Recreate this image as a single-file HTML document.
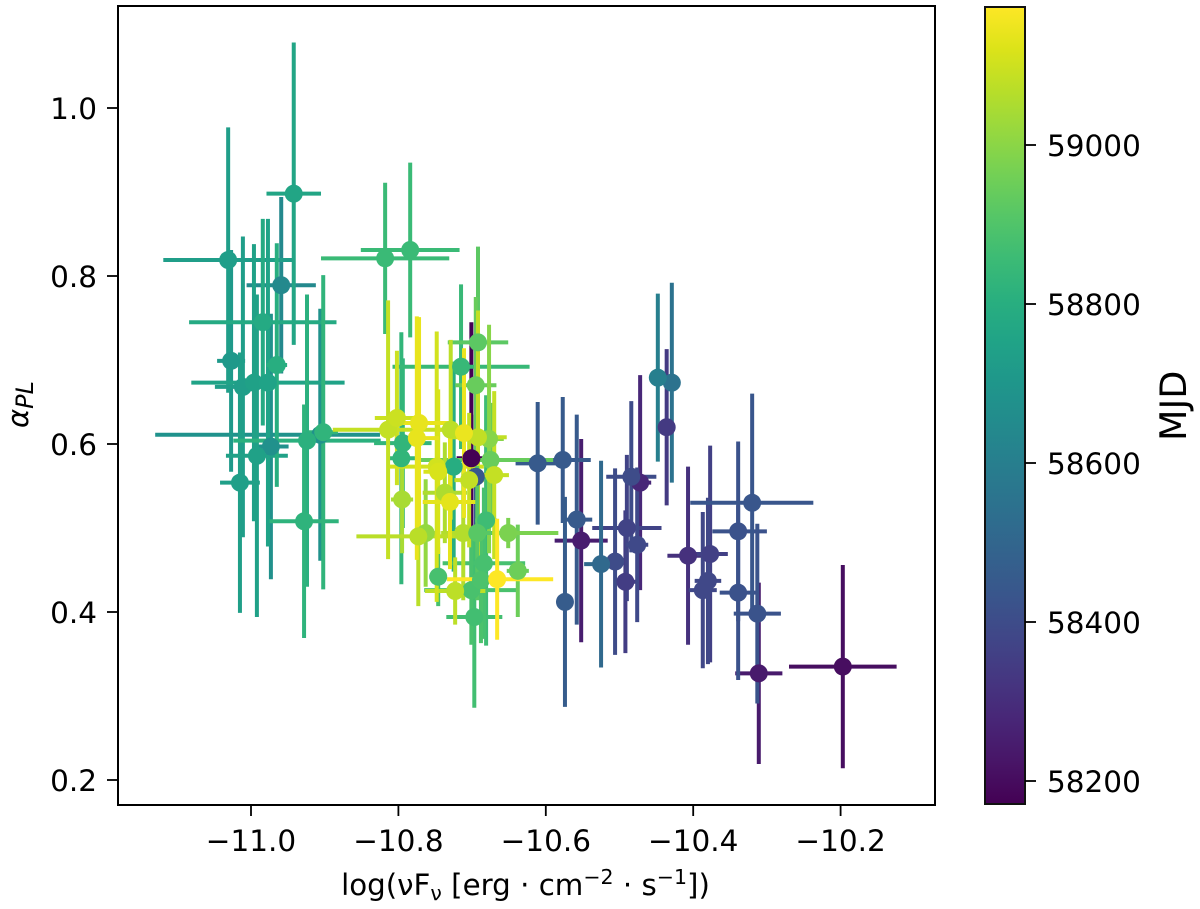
<!DOCTYPE html>
<html lang="en">
<head>
<meta charset="utf-8">
<title>Spectral index vs flux</title>
<style>
html,body{margin:0;padding:0;background:#fff;width:1200px;height:909px;overflow:hidden}
svg{display:block;font-family:"DejaVu Sans","Liberation Sans",sans-serif}
</style>
</head>
<body>
<svg id="chart" width="1200" height="909" viewBox="0 0 1200 909" xmlns="http://www.w3.org/2000/svg">
  <defs>
    <linearGradient id="viridis-gradient" x1="0" y1="1" x2="0" y2="0"></linearGradient>
  </defs>
  <rect x="0" y="0" width="1200" height="909" fill="#fff"/>
  <g id="errorbars"></g>
  <g id="markers"></g>
  <rect x="118" y="6" width="817" height="799" fill="none" stroke="#000" stroke-width="2"/>
  <g id="x-axis"></g>
  <g id="y-axis"></g>
  <text x="525.5" y="895" font-size="29.3" text-anchor="middle" fill="#000">log(νF<tspan dy="5" font-size="20.5">ν</tspan><tspan dy="-5"> [erg · cm</tspan><tspan dy="-11" font-size="20.5">−2</tspan><tspan dy="11"> · s</tspan><tspan dy="-11" font-size="20.5">−1</tspan><tspan dy="11">])</tspan></text>
  <text transform="translate(28,428) rotate(-90)" font-size="29" fill="#000"><tspan font-style="italic">α</tspan><tspan dy="5" font-size="24" font-style="italic">PL</tspan></text>
  <rect x="985" y="7" width="40" height="797" fill="url(#viridis-gradient)"/>
  <rect x="985" y="7" width="40" height="797" fill="none" stroke="#111" stroke-width="2"/>
  <g id="colorbar-axis"></g>
  <text transform="translate(1186,441) rotate(-90)" font-size="36.5" fill="#000">MJD</text>
</svg>
<script>
const logFlux = [
  -10.701,-10.197,-10.311,-10.552,-10.472,-10.407,-10.436,-10.492,-10.377,-10.490,
  -10.387,-10.380,-10.476,-10.484,-10.506,-10.339,-10.339,-10.313,-10.320,-10.695,
  -10.558,-10.577,-10.611,-10.574,-10.525,-10.429,-10.448,-10.959,-10.973,-10.906,
  -11.027,-11.011,-11.031,-11.015,-10.992,-10.996,-10.977,-10.942,-10.984,-10.725,
  -10.965,-10.924,-10.928,-10.902,-10.796,-10.794,-10.715,-10.818,-10.784,-10.681,
  -10.697,-10.746,-10.684,-10.701,-10.688,-10.692,-10.695,-10.675,-10.638,-10.651,
  -10.677,-10.763,-10.795,-10.737,-10.712,-10.729,-10.723,-10.704,-10.773,-10.692,
  -10.670,-10.814,-10.802,-10.748,-10.746,-10.730,-10.772,-10.775,-10.711,-10.666,
  -10.693
];
const alphaPL = [
  0.583,0.335,0.327,0.485,0.554,0.467,0.620,0.436,0.469,0.500,
  0.426,0.437,0.480,0.561,0.460,0.496,0.423,0.398,0.530,0.561,
  0.510,0.581,0.577,0.412,0.457,0.673,0.679,0.789,0.597,0.611,
  0.699,0.668,0.819,0.554,0.586,0.673,0.673,0.898,0.745,0.573,
  0.694,0.604,0.508,0.614,0.583,0.601,0.692,0.821,0.831,0.509,
  0.394,0.442,0.458,0.426,0.438,0.721,0.670,0.581,0.449,0.494,
  0.606,0.494,0.534,0.542,0.494,0.617,0.425,0.557,0.490,0.608,
  0.563,0.617,0.631,0.573,0.567,0.531,0.625,0.607,0.613,0.439,
  0.494
];
const fluxErrLow = [
  0.020,0.073,0.032,0.036,0.015,0.028,0.012,0.015,0.024,0.047,
  0.019,0.018,0.015,0.034,0.012,0.035,0.025,0.032,0.084,0.010,
  0.021,0.038,0.030,0.010,0.023,0.010,0.010,0.047,0.024,0.224,
  0.019,0.038,0.088,0.027,0.042,0.020,0.104,0.037,0.100,0.015,
  0.014,0.100,0.047,0.020,0.020,0.039,0.093,0.087,0.067,0.015,
  0.038,0.012,0.056,0.064,0.015,0.041,0.028,0.095,0.015,0.031,
  0.020,0.020,0.015,0.030,0.030,0.015,0.041,0.020,0.084,0.039,
  0.020,0.075,0.030,0.064,0.020,0.037,0.040,0.030,0.020,0.068,
  0.020
];
const fluxErrHigh = [
  0.020,0.073,0.032,0.036,0.015,0.028,0.012,0.015,0.024,0.047,
  0.019,0.018,0.015,0.034,0.012,0.039,0.025,0.032,0.083,0.010,
  0.021,0.038,0.030,0.010,0.023,0.010,0.010,0.047,0.024,0.081,
  0.019,0.038,0.088,0.027,0.042,0.020,0.104,0.037,0.100,0.015,
  0.014,0.100,0.047,0.020,0.020,0.039,0.093,0.087,0.067,0.015,
  0.038,0.012,0.056,0.064,0.015,0.041,0.028,0.085,0.015,0.068,
  0.020,0.020,0.015,0.030,0.030,0.015,0.041,0.020,0.084,0.039,
  0.020,0.075,0.030,0.064,0.020,0.037,0.040,0.030,0.020,0.076,
  0.020
];
const alphaErr = [
  0.162,0.121,0.108,0.121,0.128,0.106,0.093,0.085,0.129,0.087,
  0.093,0.099,0.092,0.090,0.111,0.107,0.104,0.107,0.130,0.074,
  0.125,0.075,0.073,0.125,0.123,0.119,0.100,0.105,0.158,0.150,
  0.132,0.179,0.158,0.155,0.192,0.165,0.195,0.180,0.123,0.125,
  0.145,0.174,0.139,0.187,0.150,0.101,0.098,0.090,0.104,0.149,
  0.108,0.035,0.090,0.065,0.075,0.114,0.105,0.068,0.055,0.018,
  0.136,0.064,0.064,0.060,0.080,0.107,0.040,0.080,0.083,0.151,
  0.100,0.154,0.080,0.161,0.098,0.080,0.126,0.145,0.101,0.072,
  0.080
];
const mjd = [
  58171,58205,58240,58250,58280,58310,58340,58350,58360,58370,
  58385,58385,58390,58400,58400,58420,58420,58425,58435,58440,
  58450,58450,58450,58460,58510,58550,58600,58640,58675,58680,
  58710,58730,58730,58735,58745,58745,58750,58762,58780,58793,
  58800,58810,58820,58825,58830,58830,58845,58850,58850,58860,
  58870,58880,58880,58885,58890,58922,58942,58942,58950,58975,
  58993,59012,59043,59053,59060,59073,59073,59083,59070,59080,
  59085,59085,59095,59105,59115,59133,59140,59140,59145,59173,
  58915
];
const xTickValues = [-11.0,-10.8,-10.6,-10.4,-10.2];
const yTickValues = [0.2,0.4,0.6,0.8,1.0];
const mjdTickValues = [58200,58400,58600,58800,59000];
const viridisStops = ["#440154","#481567","#482677","#453781","#404788","#39568c","#33638d","#2d708e","#287d8e","#238a8d","#1f968b","#20a387","#29af7f","#3cbb75","#55c667","#73d055","#95d840","#b8de29","#dce319","#fde725"];

const NS = "http://www.w3.org/2000/svg";
const mjdMin = 58171, mjdMax = 59173;
const FONT = 29.5;

function xScale(v){ return 251 + (v + 11) * 737; }
function yScale(a){ return 780 - (a - 0.2) * 840; }
function mjdScale(m){ return 781 - (m - 58200) * 0.795; }

function hexToRgb(h){ return [1,3,5].map(i => parseInt(h.substr(i,2),16)); }
function viridis(t){
  t = Math.max(0, Math.min(1, t));
  const p = t * (viridisStops.length - 1);
  const i = Math.min(Math.floor(p), viridisStops.length - 2);
  const a = hexToRgb(viridisStops[i]), b = hexToRgb(viridisStops[i + 1]);
  const f = p - i;
  return "rgb(" + a.map((c, k) => Math.round(c + (b[k] - c) * f)).join(",") + ")";
}
function colorFor(m){ return viridis((m - mjdMin) / (mjdMax - mjdMin)); }

function svgEl(tag, attrs, parent){
  const el = document.createElementNS(NS, tag);
  for (const k in attrs) el.setAttribute(k, attrs[k]);
  parent.appendChild(el);
  return el;
}
function fmtMinus(s){ return s.replace("-", "\u2212"); }

const gradient = document.getElementById("viridis-gradient");
viridisStops.forEach((c, i) => {
  const stop = svgEl("stop", {offset: i / (viridisStops.length - 1), "stop-color": c}, gradient);
  
  
});

const errG = document.getElementById("errorbars");
const markG = document.getElementById("markers");
logFlux.forEach((x, i) => {
  const col = colorFor(mjd[i]);
  const cx = xScale(x), cy = yScale(alphaPL[i]);
  const v = svgEl("line", {x1: cx, x2: cx, y1: yScale(alphaPL[i] + alphaErr[i]), y2: yScale(alphaPL[i] - alphaErr[i]), stroke: col, "stroke-width": 4}, errG);
  
  
  const h = svgEl("line", {x1: xScale(x - fluxErrLow[i]), x2: xScale(x + fluxErrHigh[i]), y1: cy, y2: cy, stroke: col, "stroke-width": 4}, errG);
  
  
  const c = svgEl("circle", {cx: cx, cy: cy, r: 9, fill: col}, markG);
  
  
});

const xAxis = document.getElementById("x-axis");
xTickValues.forEach(v => {
  const px = xScale(v);
  const t = svgEl("line", {x1: px, x2: px, y1: 805, y2: 816, stroke: "#000", "stroke-width": 1.8}, xAxis);
  
  
  const l = svgEl("text", {x: px, y: 851, "font-size": FONT, "text-anchor": "middle", fill: "#000"}, xAxis);
  l.textContent = fmtMinus(v.toFixed(1));
  
  
});

const yAxis = document.getElementById("y-axis");
yTickValues.forEach(v => {
  const py = yScale(v);
  const t = svgEl("line", {x1: 107, x2: 118, y1: py, y2: py, stroke: "#000", "stroke-width": 1.8}, yAxis);
  
  
  const l = svgEl("text", {x: 97, y: py + 11, "font-size": FONT, "text-anchor": "end", fill: "#000"}, yAxis);
  l.textContent = v.toFixed(1);
  
  
});

const cbAxis = document.getElementById("colorbar-axis");
mjdTickValues.forEach(v => {
  const py = mjdScale(v);
  const t = svgEl("line", {x1: 1025, x2: 1036, y1: py, y2: py, stroke: "#000", "stroke-width": 1.8}, cbAxis);
  
  
  const l = svgEl("text", {x: 1047, y: py + 11, "font-size": FONT, fill: "#000"}, cbAxis);
  l.textContent = String(v);
  
  
});
</script>
</body>
</html>
